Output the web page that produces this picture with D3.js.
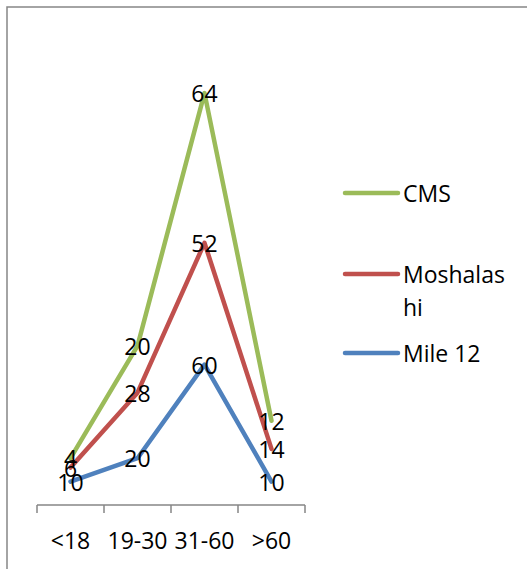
<!DOCTYPE html>
<html>
<head>
<meta charset="utf-8">
<script src="https://cdn.jsdelivr.net/npm/d3@7"></script>
<style>
  html, body { margin: 0; padding: 0; background: #fff; }
  svg { display: block; font-family: "Open Sans", "Liberation Sans", sans-serif; }
</style>
</head>
<body>
<svg id="chart" width="527" height="569"></svg>
<script>
// Age groups on the x axis
const categories = ["<18", "19-30", "31-60", ">60"];

// Series values (stacked lines, bottom series first)
const mile12 = [10, 20, 60, 10];
const moshalashi = [6, 28, 52, 14];
const cms = [4, 20, 64, 12];

const seriesNames = ["Mile 12", "Moshalashi", "CMS"];
const seriesColors = ["#4F81BD", "#C0504D", "#9BBB59"];
const legendLabels = [["CMS"], ["Moshalas", "hi"], ["Mile 12"]];
const legendOrder = [2, 1, 0];

const yMax = 200;
const fontSize = 23;

const svg = d3.select("#chart");

// Outer chart border
svg.append("rect")
  .attr("x", 7).attr("y", 7)
  .attr("width", 540).attr("height", 580)
  .attr("fill", "none")
  .attr("stroke", "#868686")
  .attr("stroke-width", 1.5);

const x = d3.scaleBand().domain(categories).range([37, 305]).padding(0);
const y = d3.scaleLinear().domain([0, yMax]).range([505, 37]);

// Stack the series
const raw = [mile12, moshalashi, cms];
const stacked = [];
let running = categories.map(() => 0);
raw.forEach((vals, i) => {
  running = running.map((r, j) => r + vals[j]);
  stacked.push(running.slice());
});

// Category axis
const axis = d3.axisBottom(x).tickSize(0).tickFormat("");
const axisG = svg.append("g").attr("transform", "translate(0,505)").call(axis);
axisG.select(".domain").attr("stroke", "#868686").attr("stroke-width", 1.5)
  .attr("d", "M37,0H305");
// Tick marks at category boundaries
const bounds = categories.map(c => x(c)).concat([x(categories[categories.length - 1]) + x.bandwidth()]);
axisG.selectAll(".bound").data(bounds).enter().append("line")
  .attr("x1", d => d).attr("x2", d => d)
  .attr("y1", 0).attr("y2", 8)
  .attr("stroke", "#868686").attr("stroke-width", 1.5);

svg.append("g").selectAll("text").data(categories).enter().append("text")
  .attr("x", d => x(d) + x.bandwidth() / 2)
  .attr("y", 540)
  .attr("text-anchor", "middle")
  .attr("dominant-baseline", "central")
  .attr("font-size", fontSize)
  .attr("fill", "#000")
  .text(d => d);

// Lines
const line = d3.line()
  .x((d, i) => x(categories[i]) + x.bandwidth() / 2)
  .y(d => y(d));

svg.append("g").selectAll("path").data(stacked).enter().append("path")
  .attr("d", d => line(d))
  .attr("fill", "none")
  .attr("stroke", (d, i) => seriesColors[i])
  .attr("stroke-width", 4.5)
  .attr("stroke-linejoin", "round")
  .attr("stroke-linecap", "round");

// Data labels centred on the points
const labelG = svg.append("g");
raw.forEach((vals, i) => {
  labelG.selectAll(null).data(vals).enter().append("text")
    .attr("x", (d, j) => x(categories[j]) + x.bandwidth() / 2)
    .attr("y", (d, j) => y(stacked[i][j]))
    .attr("text-anchor", "middle")
    .attr("dominant-baseline", "central")
    .attr("font-size", fontSize)
    .attr("fill", "#000")
    .text(d => d);
});

// Legend
const legendY = [193, 274, 353];
const legend = svg.append("g");
legendOrder.forEach((si, k) => {
  const ly = legendY[k];
  legend.append("line")
    .attr("x1", 345).attr("x2", 398)
    .attr("y1", ly).attr("y2", ly)
    .attr("stroke", seriesColors[si])
    .attr("stroke-width", 4.5)
    .attr("stroke-linecap", "round");
  const t = legend.append("text")
    .attr("x", 403).attr("y", ly)
    .attr("dominant-baseline", "central")
    .attr("font-size", fontSize)
    .attr("fill", "#000");
  legendLabels[k].forEach((part, p) => {
    t.append("tspan")
      .attr("x", 403)
      .attr("dy", p === 0 ? 0 : 33)
      .text(part);
  });
});
</script>
</body>
</html>
